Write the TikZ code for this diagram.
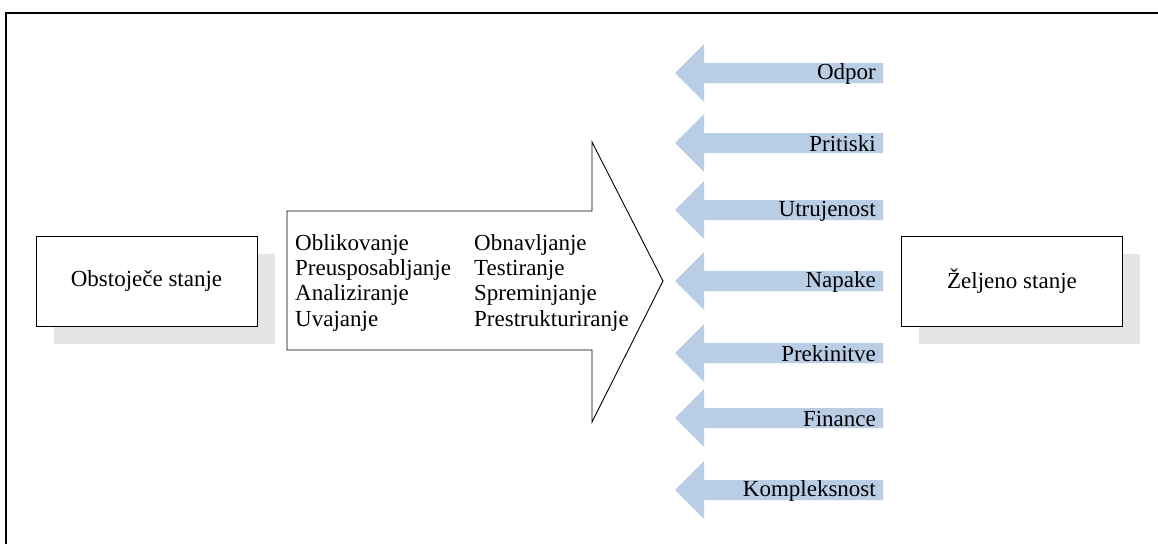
\documentclass[tikz,border=0pt]{standalone}
\usepackage{fontspec}
\setmainfont{Liberation Serif}
\definecolor{forceblue}{RGB}{185,205,229}
\definecolor{shadowgray}{RGB}{229,229,229}
\begin{document}
\begin{tikzpicture}[x=1pt,y=-1pt,
  txt/.style={font=\fontsize{23}{25.3}\selectfont, inner sep=0pt},
  statebox/.style={draw=black, line width=0.9pt, fill=white, minimum width=221pt, minimum height=90pt, txt},
  shade/.style={fill=shadowgray, draw=none},
  force/.style={fill=forceblue, draw=none},
  flabel/.style={txt, anchor=east}]
\useasboundingbox (0,0) rectangle (1158,544);
% frame
\draw[line width=1.4pt] (6,544) -- (6,13) -- (1158,13);

% current state with shadow
\fill[shade] (54,254) rectangle (275,344);
\node[statebox] (cur) at (146.5,281) {Obstoječe stanje};

% desired state with shadow
\fill[shade] (919,254) rectangle (1140,344);
\node[statebox] (goal) at (1012,281) {Željeno stanje};

% big process arrow
\draw[line width=0.9pt, fill=white]
  (287,211) -- (592,211) -- (592,142) -- (663,281) -- (592,422) -- (592,350) -- (287,350) -- cycle;
\node[txt, anchor=north west, align=left] (acts1) at (295,234)
  {Oblikovanje\\Preusposabljanje\\Analiziranje\\Uvajanje};
\node[txt, anchor=north west, align=left] (acts2) at (474,234)
  {Obnavljanje\\Testiranje\\Spreminjanje\\Prestrukturiranje};

% opposing forces
\foreach \i/\cy/\lab in {1/73/Odpor, 2/143/Pritiski, 3/210/Utrujenost, 4/281/Napake,
                         5/353/Prekinitve, 6/418/Finance, 7/490/Kompleksnost}{
  \fill[force] (883,\cy-10) -- (704,\cy-10) -- (704,\cy-29) -- (675,\cy)
     -- (704,\cy+29) -- (704,\cy+10) -- (883,\cy+10) -- cycle;
  \node[flabel] (f\i) at (876,\cy+1) {\lab};
}
\end{tikzpicture}
\end{document}
